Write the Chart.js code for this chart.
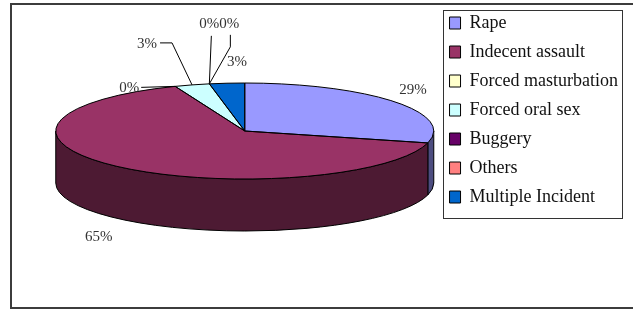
<!DOCTYPE html>
<html>
<head>
<meta charset="utf-8">
<script src="https://cdn.jsdelivr.net/npm/chart.js@4"></script>
<style>
  body { margin: 0; background: #fff; }
  canvas { display: block; }
</style>
</head>
<body>
<canvas id="pie_chart" width="633" height="311"></canvas>
<script>
var categories = ['Rape', 'Indecent assault', 'Forced masturbation', 'Forced oral sex', 'Buggery', 'Others', 'Multiple Incident'];
var shares = [29, 65, 0, 3, 0, 0, 3];
var sliceColors = ['#9999ff', '#993366', '#ffffcc', '#ccffff', '#660066', '#ff8080', '#0066cc'];

// percent label spot, counted from the rim point in the middle of each slice
var labelShift = [[19, -12], [-21, 70], [-46, 2], [-45, -41], [0, -60], [20, -60], [10, -21]];
// leader lines: start point (from label centre), then an optional bend
var leaders = [null, null, [[12, -1]], [[13, -1], [25, -1]], [[2, 12]], [[1, 11], [1, 23]], null];

// look of the tilted pie
var RX = 189, RY = 48, DEPTH = 52;

function darker(hex) {
    var n = parseInt(hex.slice(1), 16);
    return 'rgb(' + Math.round((n >> 16 & 255) / 2) + ',' + Math.round((n >> 8 & 255) / 2) + ',' + Math.round((n & 255) / 2) + ')';
}

function rim(cx, cy, a, dy) {
    return { x: cx + RX * Math.cos(a), y: cy + RY * Math.sin(a) + (dy || 0) };
}

var pie3d = {
    id: 'pie3d',
    beforeDraw: function (chart) {
        var ctx = chart.ctx;
        ctx.save();
        ctx.fillStyle = '#fff';
        ctx.fillRect(0, 0, chart.width, chart.height);
        ctx.strokeStyle = '#3c3c3c';
        ctx.lineWidth = 2;
        ctx.strokeRect(11, 4, chart.width + 20, 304);
        ctx.restore();
    },
    beforeDatasetsDraw: function (chart) {
        var ctx = chart.ctx;
        var arcs = chart.getDatasetMeta(0).data;
        var cx = arcs[0].x, cy = arcs[0].y, r0 = arcs[0].outerRadius;
        // side wall, only the front half shows
        ctx.save();
        ctx.lineWidth = 1;
        ctx.strokeStyle = '#000';
        arcs.forEach(function (arc, i) {
            var a1 = Math.max(arc.startAngle, 0);
            var a2 = Math.min(arc.endAngle, Math.PI);
            if (a2 <= a1) return;
            var p = rim(cx, cy, a2, DEPTH);
            ctx.beginPath();
            ctx.ellipse(cx, cy, RX, RY, 0, a1, a2);
            ctx.lineTo(p.x, p.y);
            ctx.ellipse(cx, cy + DEPTH, RX, RY, 0, a2, a1, true);
            ctx.closePath();
            ctx.fillStyle = darker(sliceColors[i]);
            ctx.fill();
            ctx.stroke();
        });
        ctx.restore();
        // flatten the round pie into the top face
        ctx.save();
        ctx.translate(cx, cy);
        ctx.scale(RX / r0, RY / r0);
        ctx.translate(-cx, -cy);
    },
    afterDatasetsDraw: function (chart) {
        var ctx = chart.ctx;
        ctx.restore();
        var arcs = chart.getDatasetMeta(0).data;
        var cx = arcs[0].x, cy = arcs[0].y;
        var total = shares.reduce(function (s, v) { return s + v; }, 0);
        ctx.save();
        ctx.lineWidth = 1;
        ctx.strokeStyle = '#000';
        arcs.forEach(function (arc) {
            if (arc.endAngle - arc.startAngle <= 0) return;
            var p = rim(cx, cy, arc.startAngle);
            ctx.beginPath();
            ctx.moveTo(cx, cy);
            ctx.lineTo(p.x, p.y);
            ctx.ellipse(cx, cy, RX, RY, 0, arc.startAngle, arc.endAngle);
            ctx.closePath();
            ctx.stroke();
        });
        ctx.font = '15px "Liberation Serif"';
        ctx.fillStyle = '#333';
        ctx.textAlign = 'center';
        ctx.textBaseline = 'middle';
        arcs.forEach(function (arc, i) {
            var anchor = rim(cx, cy, (arc.startAngle + arc.endAngle) / 2);
            var lx = anchor.x + labelShift[i][0], ly = anchor.y + labelShift[i][1];
            ctx.fillText(Math.round(shares[i] / total * 100) + '%', lx, ly);
            if (leaders[i]) {
                ctx.beginPath();
                leaders[i].forEach(function (pt, k) {
                    if (k === 0) ctx.moveTo(lx + pt[0], ly + pt[1]);
                    else ctx.lineTo(lx + pt[0], ly + pt[1]);
                });
                ctx.lineTo(anchor.x, anchor.y);
                ctx.stroke();
            }
        });
        ctx.restore();
    },
    afterDraw: function (chart) {
        var ctx = chart.ctx, lg = chart.legend, hb = lg.legendHitBoxes;
        var last = hb[hb.length - 1];
        var top = hb[0].top - 4;
        ctx.save();
        ctx.strokeStyle = '#333';
        ctx.lineWidth = 1;
        ctx.strokeRect(Math.round(lg.left) + 4.5, Math.round(top) + 0.5, Math.round(lg.width) - 10, Math.round(last.top + last.height + 12 - top));
        ctx.restore();
    }
};

var pie_chart = document.getElementById('pie_chart');
var My_pie_chart = new Chart(pie_chart, {
    type: 'pie',
    data: {
        labels: categories,
        datasets: [{
            data: shares,
            backgroundColor: sliceColors,
            borderWidth: 0,
            clip: false
        }]
    },
    options: {
        responsive: false,
        animation: false,
        layout: { padding: { left: 51, right: 5, top: 3, bottom: 52 } },
        plugins: {
            legend: {
                position: 'right',
                align: 'start',
                labels: {
                    boxWidth: 11,
                    boxHeight: 12,
                    padding: 11,
                    color: '#111',
                    font: { family: 'Liberation Serif', size: 18 },
                    generateLabels: function (chart) {
                        var items = Chart.overrides.pie.plugins.legend.labels.generateLabels(chart);
                        items.forEach(function (it) {
                            it.strokeStyle = '#000';
                            it.lineWidth = 1;
                        });
                        return items;
                    }
                }
            },
            tooltip: { enabled: false }
        }
    },
    plugins: [pie3d]
});
</script>
</body>
</html>
